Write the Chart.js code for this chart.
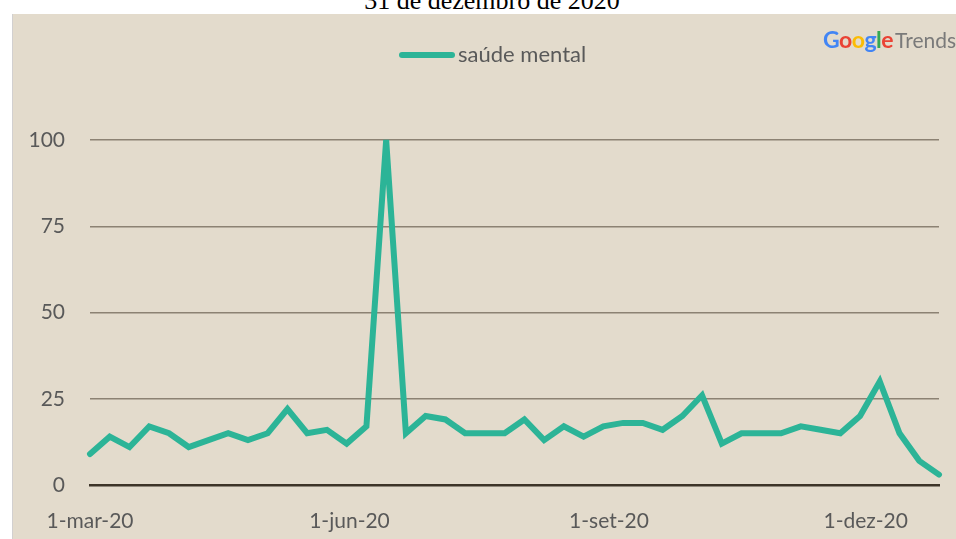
<!DOCTYPE html>
<html>
<head>
<meta charset="utf-8">
<script src="https://cdn.jsdelivr.net/npm/chart.js@4.4.1/dist/chart.umd.min.js"></script>
<style>
  html, body { margin: 0; padding: 0; background: #ffffff; width: 956px; height: 539px; overflow: hidden; }
  #title { position: absolute; left: 0; width: 984px; top: -12px; text-align: center;
    font-family: "Liberation Serif", serif; font-size: 26px; line-height: 26px; color: #000; }
  #panel { position: absolute; left: 12px; top: 14px; width: 944px; height: 525px; background: #e3dbcc;
    border-left: 1px solid #d2d0d0; box-sizing: border-box; overflow: hidden; }
  #legend { position: absolute; left: 386px; top: 26px; height: 26px; font-family: Lato, sans-serif;
    font-size: 22px; color: #595959; white-space: nowrap; }
  #legend .swatch { display: inline-block; width: 56px; height: 6px; border-radius: 3px; background: #2cb497;
    vertical-align: middle; margin-right: 3px; position: relative; top: -1px; }
  #logo { position: absolute; left: 810px; top: 11px; font-family: Lato, sans-serif; white-space: nowrap; }
  #logo .g { font-size: 23px; font-weight: bold; letter-spacing: -0.5px; }
  #logo .t { font-size: 21px; color: #7a7a7a; margin-left: 2px; }
  canvas { position: absolute; left: 0; top: 0; }
</style>
</head>
<body>
<div id="title">31 de dezembro de 2020</div>
<div id="panel">
  <canvas id="myChart" width="944" height="525"></canvas>
  <div id="legend"><span class="swatch"></span>saúde mental</div>
  <div id="logo"><span class="g"><span style="color:#4285f4">G</span><span style="color:#ea4335">o</span><span style="color:#fbbc05">o</span><span style="color:#4285f4">g</span><span style="color:#34a853">l</span><span style="color:#ea4335">e</span></span><span class="t">Trends</span></div>
</div>
<script>
// weeks (start date of each google trends week)
var weeks = [
  '2020-03-01','2020-03-08','2020-03-15','2020-03-22','2020-03-29',
  '2020-04-05','2020-04-12','2020-04-19','2020-04-26',
  '2020-05-03','2020-05-10','2020-05-17','2020-05-24','2020-05-31',
  '2020-06-07','2020-06-14','2020-06-21','2020-06-28',
  '2020-07-05','2020-07-12','2020-07-19','2020-07-26',
  '2020-08-02','2020-08-09','2020-08-16','2020-08-23','2020-08-30',
  '2020-09-06','2020-09-13','2020-09-20','2020-09-27',
  '2020-10-04','2020-10-11','2020-10-18','2020-10-25',
  '2020-11-01','2020-11-08','2020-11-15','2020-11-22','2020-11-29',
  '2020-12-06','2020-12-13','2020-12-20','2020-12-27'
];
// interest values for "saúde mental"
var saudeMental = [9,14,11,17,15,11,13,15,13,15,22,15,16,12,17,100,15,20,19,15,15,15,19,13,17,14,17,18,18,16,20,26,12,15,15,15,17,16,15,20,30,15,7,3];
// x tick dates and their labels
var tickDates = ['2020-03-01','2020-06-01','2020-09-01','2020-12-01'];
var tickLabels = ['1-mar-20','1-jun-20','1-set-20','1-dez-20'];
var yTicks = [0,25,50,75,100];

function dayOf(s){ //days since first week
  return (new Date(s + 'T00:00:00Z') - new Date(weeks[0] + 'T00:00:00Z')) / 86400000;
}
var points = [];
for(var i=0;i<weeks.length;i++){
  points.push({x: dayOf(weeks[i]), y: saudeMental[i]});
}
var tickDays = tickDates.map(dayOf);

var ctx = document.getElementById('myChart').getContext('2d');
var myChart = new Chart(ctx, {
  type: 'line',
  data: {
    datasets: [{
      label: 'saúde mental',
      data: points,
      borderColor: '#2cb497',
      borderWidth: 6,
      borderCapStyle: 'round',
      borderJoinStyle: 'miter',
      pointRadius: 0,
      tension: 0,
      clip: false
    }]
  },
  options: {
    responsive: false,
    animation: false,
    layout: { padding: { left: 0, right: 18, top: 126, bottom: 0 } },
    plugins: { legend: { display: false }, tooltip: { enabled: false } },
    scales: {
      x: {
        type: 'linear',
        min: 0,
        max: dayOf(weeks[weeks.length-1]),
        afterBuildTicks: function(scale){
          scale.ticks = tickDays.map(function(v){ return {value: v}; });
        },
        afterFit: function(scale){ scale.height = 54; },
        grid: { display: false },
        border: { display: true, color: '#3d3428', width: 2.5 },
        ticks: {
          padding: 16,
          maxRotation: 0,
          autoSkip: false,
          color: '#595959',
          font: { family: 'Lato', size: 21 },
          callback: function(v){ return tickLabels[tickDays.indexOf(v)]; }
        }
      },
      y: {
        min: 0,
        max: 100,
        afterBuildTicks: function(scale){
          scale.ticks = yTicks.map(function(v){ return {value: v}; });
        },
        afterFit: function(scale){ scale.width = 77; },
        border: { display: false },
        grid: {
          drawTicks: false,
          lineWidth: 1.5,
          color: function(c){ return c.tick && c.tick.value === 0 ? 'rgba(0,0,0,0)' : '#8c8273'; }
        },
        ticks: {
          padding: 25,
          color: '#595959',
          font: { family: 'Lato', size: 21 }
        }
      }
    }
  }
});
</script>
</body>
</html>
